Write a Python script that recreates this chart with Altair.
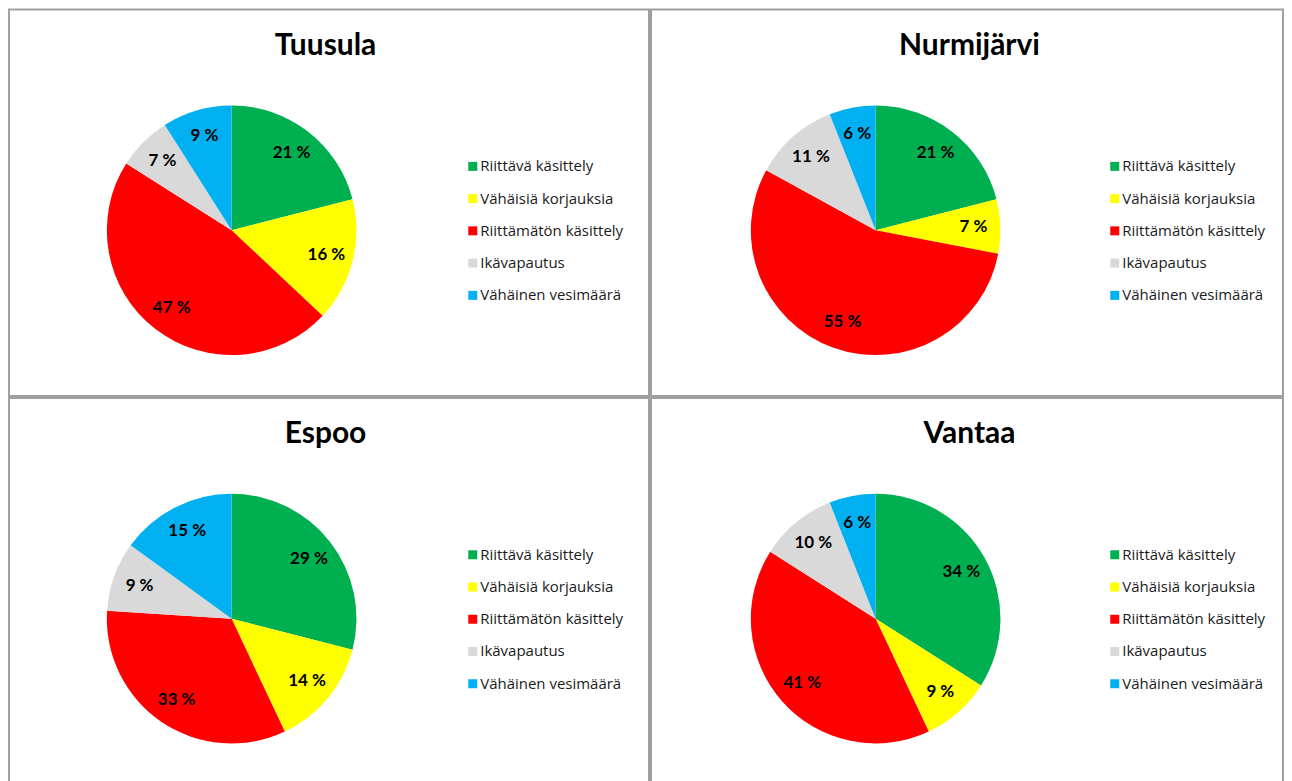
import altair as alt
import pandas as pd

categories = ["Riittävä käsittely", "Vähäisiä korjauksia", "Riittämätön käsittely",
              "Ikävapautus", "Vähäinen vesimäärä"]
colors = ["#00B050", "#FFFF00", "#FF0000", "#D9D9D9", "#00B0F0"]
municipalities = ["Tuusula", "Nurmijärvi", "Espoo", "Vantaa"]
tuusula = [21, 16, 47, 7, 9]
nurmijarvi = [21, 7, 55, 11, 6]
espoo = [29, 14, 33, 9, 15]
vantaa = [34, 9, 41, 10, 6]

PH = 387
FONT = "Lato"


def panel(name, values, cx, tx, pw):
    df = pd.DataFrame({
        "cat": categories,
        "value": values,
        "order": list(range(len(categories))),
        "label": [f"{v} %" for v in values],
    })
    base = alt.Chart(df).encode(
        theta=alt.Theta("value:Q", stack=True),
        order=alt.Order("order:Q"),
        x=alt.value(cx),
        y=alt.value(221),
    )
    arc = base.mark_arc(outerRadius=125).encode(
        color=alt.Color(
            "cat:N",
            scale=alt.Scale(domain=categories, range=colors),
            legend=alt.Legend(
                title=None, orient="none", legendX=457, legendY=149.5,
                symbolType="square", symbolSize=81, symbolStrokeWidth=0,
                labelFont="Open Sans", labelFontSize=15, labelColor="#1a1a1a",
                rowPadding=16.3, labelOffset=0, padding=0, symbolOffset=0,
                labelLimit=300,
            ),
        )
    )
    txt = base.mark_text(radius=98, font=FONT, fontWeight="bold", fontSize=17,
                         color="black").encode(text="label:N")
    title = alt.Chart(pd.DataFrame({"t": [name]})).mark_text(
        font=FONT, fontWeight="bold", fontSize=30, color="black"
    ).encode(text="t:N", x=alt.value(tx), y=alt.value(36))
    return alt.layer(arc, txt, title).properties(width=pw, height=PH)


p1 = panel(municipalities[0], tuusula, 223, 317, 641)
p2 = panel(municipalities[1], nurmijarvi, 225, 319, 633)
p3 = panel(municipalities[2], espoo, 223, 317, 641)
p4 = panel(municipalities[3], vantaa, 225, 319, 633)

row1 = alt.hconcat(p1, p2, spacing=0).resolve_scale(color="independent").resolve_legend(color="independent")
row2 = alt.hconcat(p3, p4, spacing=0).resolve_scale(color="independent").resolve_legend(color="independent")

chart = alt.vconcat(row1, row2, spacing=0).resolve_scale(
    color="independent").resolve_legend(color="independent").properties(
    padding={"left": 0, "top": 0, "right": 0, "bottom": 0},
    background="white",
).configure_view(stroke="#A0A0A0", strokeWidth=2)

chart.save("out.html", embed_options={"renderer": "svg", "actions": False})
